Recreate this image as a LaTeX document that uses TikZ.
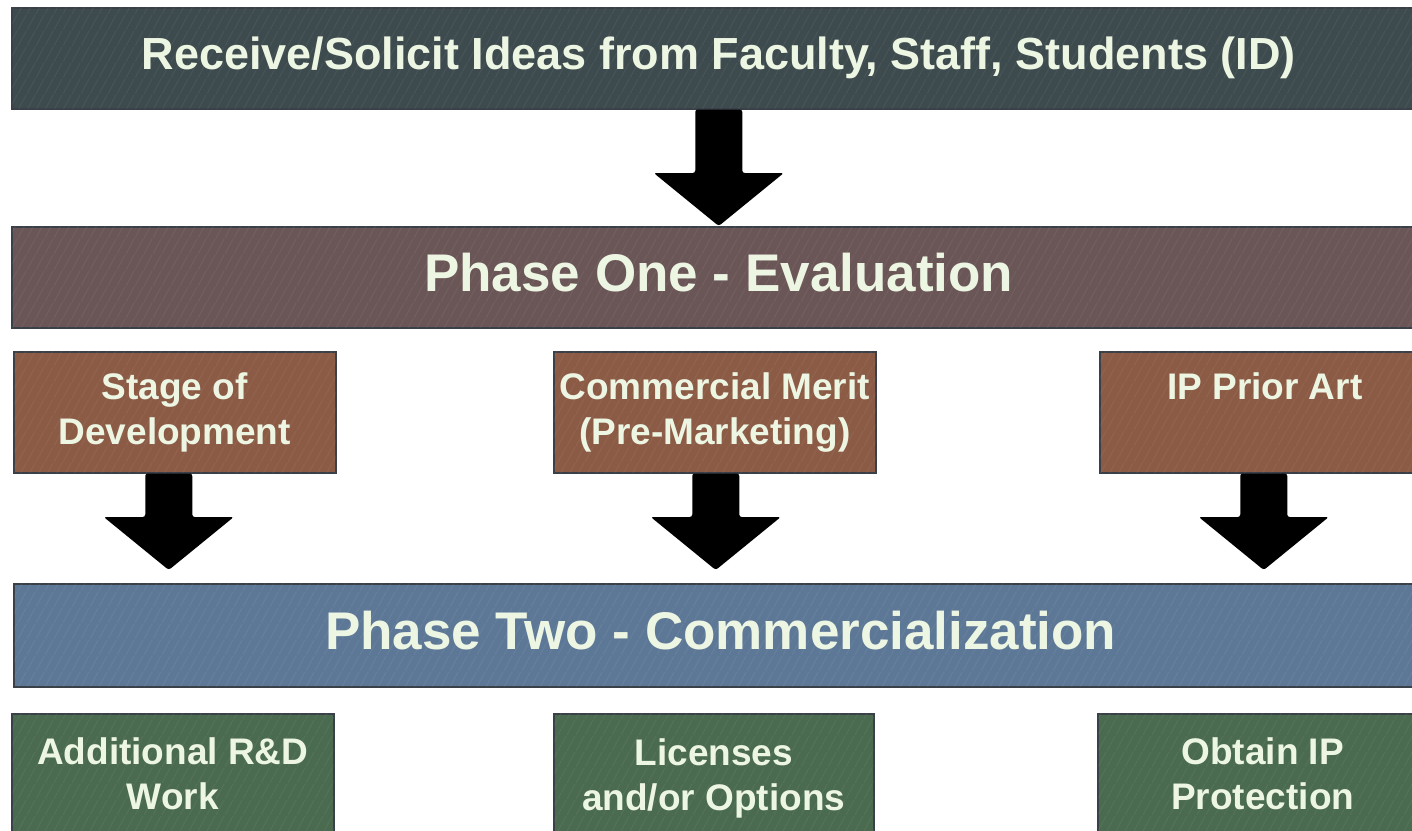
\documentclass[tikz,border=0pt]{standalone}
\usepackage{fontspec}
\setmainfont{Liberation Sans}
\usetikzlibrary{calc,patterns.meta}

\definecolor{txt}{HTML}{EDF5E3}
\definecolor{boxline}{HTML}{3A4047}
\definecolor{slate}{HTML}{3D4A4E}
\definecolor{mauve}{HTML}{6B5657}
\definecolor{rust}{HTML}{8B5B45}
\definecolor{steel}{HTML}{5D7896}
\definecolor{moss}{HTML}{4A6B50}

% faint diagonal streaks laid over the box fills
\tikzdeclarepattern{
  name=streaks,
  type=uncolored,
  bounding box={(0,0) and (9pt,16pt)},
  tile size={(9pt,16pt)},
  code={\draw[line width=1.2pt] (0,0) -- (9pt,16pt);}
}

\tikzset{
  panel/.style={draw=boxline, line width=1.5pt, fill=#1, inner sep=0pt,
    anchor=north west, text=txt, font=\bfseries, align=center,
    postaction={pattern=streaks, pattern color=white, fill opacity=0.05}},
  bigtext/.style={font=\bfseries\fontsize{53}{60}\selectfont,
    text height=38pt, text depth=10pt},
  toptext/.style={font=\bfseries\fontsize{45}{54}\selectfont},
  smalltext/.style={font=\bfseries\fontsize{37}{45}\selectfont},
  arrowfill/.style={fill=black, rounded corners=2.5pt}
}

% fat block arrow from the bottom of #3 towards the top of #4:
% #1 shifts it sideways, #2 is the gap left above #4
\newcommand\blockarrow[4]{%
  \fill[arrowfill] let \p1=($(#3.south)+(#1,0pt)$), \p2=($(#4.north)+(0pt,#2)$) in
    (\x1-23.5pt,\y1) -- (\x1+23.5pt,\y1) -- (\x1+23.5pt,\y2+53pt)
    -- (\x1+65pt,\y2+53pt) -- (\x1,\y2) -- (\x1-65pt,\y2+53pt)
    -- (\x1-23.5pt,\y2+53pt) -- cycle;}

% a line whose descenders do not count towards its depth
\newcommand\nodepth[1]{\raisebox{0pt}[\height][0pt]{#1}}

\begin{document}
\begin{tikzpicture}[x=1pt, y=-1pt]
\useasboundingbox (0,0) rectangle (1412,830);
\clip (0,0) rectangle (1412,830);
\fill[white] (0,0) rectangle (1412,830);

% intake
\node[panel=slate, toptext, minimum width=1414pt, minimum height=101pt]
  (ideas) at (11,7) {Receive/Solicit Ideas from Faculty, Staff, Students (ID)};

% phase one and its three evaluation items
\node[panel=mauve, bigtext, minimum width=1414pt, minimum height=101pt]
  (phaseone) at (11,226) {Phase One - Evaluation};

\node[panel=rust, smalltext, minimum width=322pt, minimum height=121pt]
  (stage) at (13,351) {Stage of\\Development};
\node[panel=rust, smalltext, minimum width=322pt, minimum height=121pt]
  (merit) at (553,351) {Commercial Merit\\(Pre-Marketing)};
\node[panel=rust, smalltext, minimum width=330pt, minimum height=121pt]
  (prior) at (1099,351) {IP Prior Art\\\vphantom{p}};

% phase two and its outcomes
\node[panel=steel, bigtext, minimum width=1414pt, minimum height=103pt]
  (phasetwo) at (13,583) {Phase Two - Commercialization};

\node[panel=moss, smalltext, minimum width=322pt, minimum height=121pt]
  (rnd) at (11,713) {Additional R\&D\\Work};
\node[panel=moss, smalltext, minimum width=320pt, minimum height=121pt]
  (licenses) at (553,713) {Licenses\\\nodepth{and/or Options}};
\node[panel=moss, smalltext, minimum width=330pt, minimum height=121pt]
  (protect) at (1097,713) {Obtain IP\\Protection};

% flow arrows
\blockarrow{0pt}{0pt}{ideas}{phaseone}
\blockarrow{-6pt}{13pt}{stage}{phasetwo}
\blockarrow{1pt}{13pt}{merit}{phasetwo}
\blockarrow{-1pt}{13pt}{prior}{phasetwo}
\end{tikzpicture}
\end{document}
